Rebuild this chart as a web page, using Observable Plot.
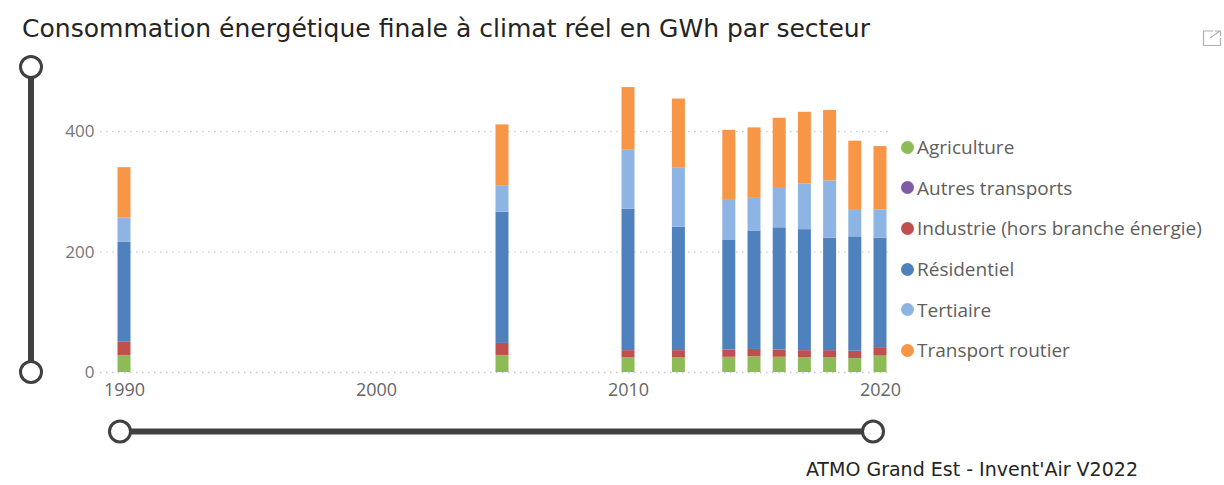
<!DOCTYPE html>
<html>
<head>
<meta charset="utf-8">
<script src="https://cdn.jsdelivr.net/npm/d3@7"></script>
<script src="https://cdn.jsdelivr.net/npm/@observablehq/plot@0.6"></script>
<style>
  html, body { margin: 0; padding: 0; background: #fff; }
  #page { position: relative; width: 1224px; height: 485px; overflow: hidden; font-family: "Open Sans", "Noto Sans", sans-serif; }
  #title { position: absolute; left: 22px; top: 14px; font-family: "Liberation Sans Narrow", "DejaVu Sans Condensed", sans-serif; font-size: 25px; color: #252423; white-space: nowrap; transform-origin: 0 0; }
  #chart { position: absolute; left: 0; top: 60px; }
  #legend { position: absolute; left: 901px; top: 127px; }
  .item { display: flex; align-items: center; height: 40.6px; font-size: 19px; color: #605e5c; white-space: nowrap; }
  .dot { width: 13px; height: 13px; border-radius: 50%; margin-right: 3px; flex: none; }
  #caption { position: absolute; left: 806px; top: 457px; font-family: "Liberation Sans Narrow", "DejaVu Sans Condensed", sans-serif; font-size: 20px; color: #252423; white-space: nowrap; transform-origin: 0 0; }
  #deco { position: absolute; left: 0; top: 0; pointer-events: none; }
</style>
</head>
<body>
<div id="page">
  <div id="title">Consommation énergétique finale à climat réel en GWh par secteur</div>
  <div id="chart"></div>
  <div id="legend"></div>
  <div id="caption">ATMO Grand Est - Invent'Air V2022</div>
</div>
<script>
// ---- Data (GWh) ----
const years = [1990, 2005, 2010, 2012, 2014, 2015, 2016, 2017, 2018, 2019, 2020];
const sectors = ["Agriculture", "Autres transports", "Industrie (hors branche énergie)", "Résidentiel", "Tertiaire", "Transport routier"];
const colors = ["#8DBB55", "#7E5CA6", "#C0504D", "#4F81BD", "#8EB4E3", "#F79646"];
const agriculture = [28, 28, 24, 24, 25, 26, 25, 24, 24, 23, 27];
const autresTransports = [0.3, 0.3, 0.3, 0.3, 0.3, 0.3, 0.3, 0.3, 0.3, 0.3, 0.3];
const industrie = [22, 20, 12, 12, 12, 12, 12, 12, 12, 12, 14];
const residentiel = [166, 218, 235, 205, 182, 196, 203, 201, 187, 190, 182];
const tertiaire = [40, 44, 98, 98, 68, 55, 67, 76, 95, 44, 47];
const transportRoutier = [84, 101, 104, 115, 115, 117, 115, 119, 117, 115, 105];
const yTicks = [0, 200, 400];
const xTicks = [1990, 2000, 2010, 2020];

const series = [agriculture, autresTransports, industrie, residentiel, tertiaire, transportRoutier];

// manual stacking
const rows = [];
years.forEach((yr, i) => {
  let acc = 0;
  series.forEach((s, k) => {
    const v = s[i];
    rows.push({year: yr, sector: sectors[k], y1: acc, y2: acc + v});
    acc += v;
  });
});

const chart = Plot.plot({
  width: 1224,
  height: 360,
  marginLeft: 124,
  marginRight: 344,
  marginTop: 11,
  marginBottom: 48,
  style: {fontFamily: '"Open Sans", "Noto Sans", sans-serif', fontSize: "16px", color: "#777", background: "transparent", overflow: "visible"},
  x: {domain: [1990, 2020], label: null},
  y: {domain: [0, 500], label: null},
  color: {domain: sectors, range: colors},
  marks: [
    Plot.ruleY(yTicks, {stroke: "#c8c8c8", strokeDasharray: "1.5,4.5", strokeWidth: 1.3, insetLeft: -24, insetRight: -12}),
    Plot.rect(rows, {x1: "year", x2: "year", y1: "y1", y2: "y2", fill: "sector", insetLeft: -6.5, insetRight: -6.5}),
    Plot.axisX({ticks: xTicks, tickFormat: d => String(d), tickSize: 0, tickPadding: 11, fontSize: 18, fill: "#666", label: null}),
    Plot.axisY({ticks: yTicks, tickSize: 0, tickPadding: 30, fontSize: 17, fill: "#777", label: null})
  ]
});
document.getElementById("chart").appendChild(chart);

// legend
const legend = document.getElementById("legend");
sectors.forEach((s, k) => {
  const it = document.createElement("div");
  it.className = "item";
  const dot = document.createElement("span");
  dot.className = "dot";
  dot.style.background = colors[k];
  const t = document.createElement("span");
  t.textContent = s;
  it.appendChild(dot); it.appendChild(t);
  legend.appendChild(it);
});

// fit title / caption widths
function fit(id, w) {
  const el = document.getElementById(id);
  const r = el.getBoundingClientRect().width;
  el.style.transform = `scaleX(${w / r})`;
}
fit("title", 848);
fit("caption", 332);

// slider decorations
const deco = d3.select("#page").append("svg").attr("id", "deco").attr("width", 1224).attr("height", 485);
const dark = "#404040";
deco.append("line").attr("x1", 31).attr("x2", 31).attr("y1", 67).attr("y2", 372).attr("stroke", dark).attr("stroke-width", 6);
deco.append("line").attr("x1", 120).attr("x2", 873).attr("y1", 431.5).attr("y2", 431.5).attr("stroke", dark).attr("stroke-width", 6);
[[31, 67], [31, 372], [120, 431.5], [873, 431.5]].forEach(([cx, cy]) => {
  deco.append("circle").attr("cx", cx).attr("cy", cy).attr("r", 10.5).attr("fill", "#fff").attr("stroke", dark).attr("stroke-width", 3);
});
// expand icon
const ic = deco.append("g").attr("stroke", "#b0b0b0").attr("fill", "none").attr("stroke-width", 1.2);
ic.append("path").attr("d", "M1213 31 H1203.5 V45.5 H1220.5 V38");
ic.append("path").attr("d", "M1210 38 L1220 31 M1215 31 H1220.5 V36");
</script>
</body>
</html>
